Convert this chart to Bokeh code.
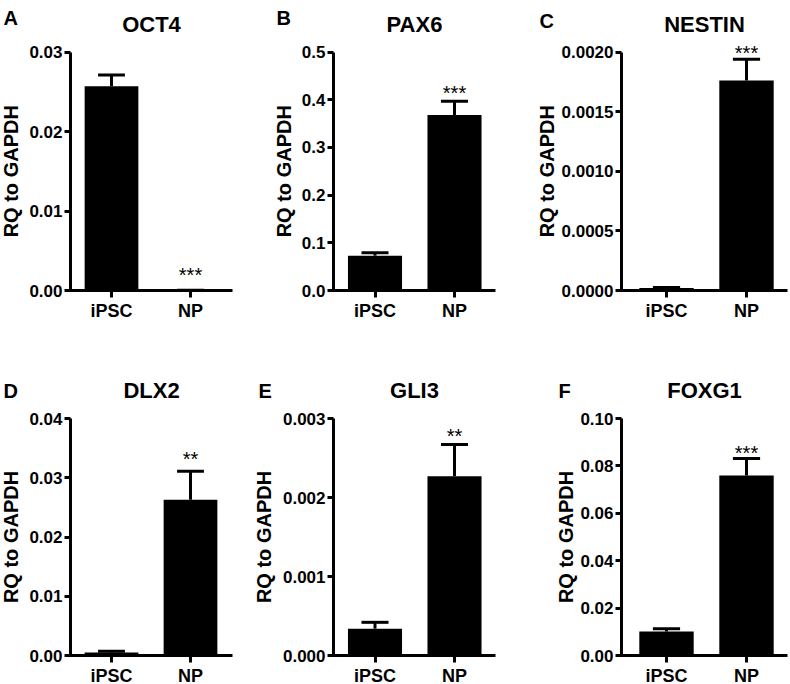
import math
from bokeh.plotting import figure
from bokeh.models import Range1d, FixedTicker, ColumnDataSource, PrintfTickFormatter
from bokeh.layouts import row, column
from bokeh.transform import dodge
from bokeh.embed import file_html
from bokeh.resources import INLINE
from bokeh.core.properties import value

# ---------------- data ----------------
genes = ["OCT4", "PAX6", "NESTIN", "DLX2", "GLI3", "FOXG1"]
panel_letters = ["A", "B", "C", "D", "E", "F"]
groups = ["iPSC", "NP"]
mean_ipsc = [0.0257, 0.073, 0.00002, 0.0005, 0.00034, 0.0101]
sem_ipsc = [0.0014, 0.006, 0.000005, 0.0002, 0.00008, 0.0012]
mean_np = [0.00003, 0.368, 0.00176, 0.0263, 0.00227, 0.0759]
sem_np = [0.00001, 0.029, 0.00018, 0.0048, 0.0004, 0.0072]
significance = ["***", "***", "***", "**", "**", "***"]
y_tick_labels = [
    ["0.00", "0.01", "0.02", "0.03"],
    ["0.0", "0.1", "0.2", "0.3", "0.4", "0.5"],
    ["0.0000", "0.0005", "0.0010", "0.0015", "0.0020"],
    ["0.00", "0.01", "0.02", "0.03", "0.04"],
    ["0.000", "0.001", "0.002", "0.003"],
    ["0.00", "0.02", "0.04", "0.06", "0.08", "0.10"],
]
y_axis_title = "RQ to GAPDH"

# ---------------- layout / style (pixels) ----------------
FONT = "Liberation Sans"
COL_X0 = [0, 240, 533]
COL_W = [240, 293, 257]
AXIS_PX = [70, 333, 621]
C1_PX = [111, 374.5, 666]
UNIT_PX = [79, 79.5, 80]
END_PX = [232, 495, 787]
ROW_Y0 = [0, 340]
ROW_H = [340, 344]
ZERO_PX = [290, 655]
TOP_PX = [51.5, 418]
LETTER_DX = [-67, -57, -82, -67, -75, -63]
LETTER_DY = [-34, -34, -31, -28, -28, -28]
TITLE_DY = -28
YLABEL_DX = [-59.5, -49.5, -74.5, -59.5, -69.5, -55.5]
STAR_GAP = [17, 10, 8, 14, 11, 8]
BAR_W = 0.68
CAP_W = 0.34


def make_panel(i):
    r, c = divmod(i, 3)
    ticks = [float(t) for t in y_tick_labels[i]]
    top_val = ticks[-1]
    decimals = len(y_tick_labels[i][0].split(".")[1])

    W, H = COL_W[c], ROW_H[r]
    u = UNIT_PX[c]
    c1 = C1_PX[c] - COL_X0[c]
    ax_px = AXIS_PX[c] - COL_X0[c]
    end_px = END_PX[c] - COL_X0[c]
    x_start = 1 - c1 / u
    x_end = 1 + (W - c1) / u
    x_axis = 1 - (c1 - ax_px) / u
    x_axis_left = 1 - (c1 - ax_px + 5) / u
    x_line_end = 1 + (end_px - c1) / u

    zero = ZERO_PX[r] - ROW_Y0[r]
    topp = TOP_PX[r] - ROW_Y0[r]
    v = (zero - topp) / top_val
    y_end = zero / v
    y_start = -(H - zero) / v

    p = figure(width=W, height=H,
               x_range=Range1d(x_start, x_end), y_range=Range1d(y_start, y_end),
               output_backend="svg", toolbar_location=None,
               min_border_left=0, min_border_right=0,
               min_border_top=0, min_border_bottom=0)
    p.outline_line_color = None
    p.grid.visible = False
    p.background_fill_color = "white"
    p.border_fill_color = "white"

    src = ColumnDataSource(dict(
        x=[1, 2],
        mean=[mean_ipsc[i], mean_np[i]],
        top=[mean_ipsc[i] + sem_ipsc[i], mean_np[i] + sem_np[i]],
    ))
    p.vbar(x="x", top="mean", bottom=0, width=BAR_W, source=src,
           fill_color="black", line_color=None)
    p.segment(x0="x", y0="mean", x1="x", y1="top", source=src,
              line_color="black", line_width=3)
    p.segment(x0=dodge("x", -CAP_W / 2), y0="top", x1=dodge("x", CAP_W / 2), y1="top",
              source=src, line_color="black", line_width=3)

    star_src = ColumnDataSource(dict(x=[2], y=[mean_np[i] + sem_np[i]], t=[significance[i]]))
    p.text(x="x", y="y", text="t", source=star_src, text_align="center",
           text_baseline="alphabetic", y_offset=2 - STAR_GAP[i],
           text_font=value(FONT), text_font_size="20px", text_color="black")

    # texts: gene title, panel letter, y axis title
    p.text(x=[(x_axis + x_line_end) / 2], y=[top_val], text=[genes[i]],
           y_offset=TITLE_DY, text_align="center", text_baseline="alphabetic",
           text_font=value(FONT), text_font_style=value("bold"),
           text_font_size="22px", text_color="black")
    p.text(x=[x_axis], y=[top_val], text=[panel_letters[i]],
           x_offset=LETTER_DX[i], y_offset=LETTER_DY[i],
           text_align="left", text_baseline="alphabetic",
           text_font=value(FONT), text_font_style=value("bold"),
           text_font_size="20px", text_color="black")
    p.text(x=[x_axis], y=[top_val / 2], text=[y_axis_title], angle=math.pi / 2,
           x_offset=YLABEL_DX[i], text_align="center", text_baseline="middle",
           text_font=value(FONT), text_font_style=value("bold"),
           text_font_size="20px", text_color="black")

    yax = p.yaxis[0]
    yax.fixed_location = x_axis
    yax.bounds = (0, top_val)
    yax.ticker = FixedTicker(ticks=ticks)
    yax.formatter = PrintfTickFormatter(format="%%.%df" % decimals)
    yax.major_tick_out = 6
    yax.major_label_standoff = 2
    yax.major_label_text_font_size = "17px"

    xax = p.xaxis[0]
    xax.fixed_location = 0
    xax.bounds = (x_axis_left, x_line_end)
    xax.ticker = FixedTicker(ticks=[1, 2])
    xax.major_label_overrides = {1: groups[0], 2: groups[1]}
    xax.major_tick_out = 7
    xax.major_label_standoff = 3
    xax.major_label_text_font_size = "18px"

    for ax in (xax, yax):
        ax.axis_line_width = 3
        ax.axis_line_color = "black"
        ax.major_tick_line_width = 3
        ax.major_tick_line_color = "black"
        ax.major_tick_in = 0
        ax.minor_tick_line_color = None
        ax.major_label_text_font = FONT
        ax.major_label_text_font_style = "bold"
        ax.major_label_text_color = "black"
    return p


panels = [make_panel(i) for i in range(6)]
layout = column(row(*panels[:3]), row(*panels[3:]))

open("out.html", "w").write(file_html(layout, INLINE, title="RQ to GAPDH"))
